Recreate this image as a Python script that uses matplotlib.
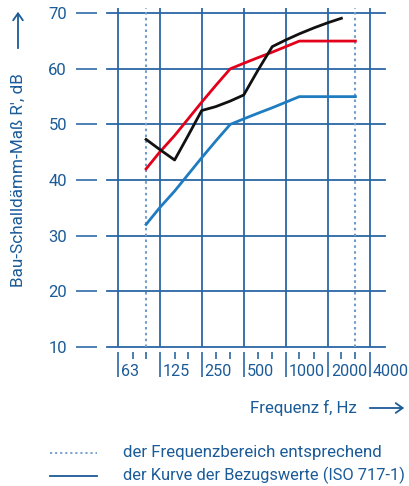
import matplotlib
matplotlib.use("Agg")
import matplotlib.pyplot as plt
from matplotlib.lines import Line2D
from matplotlib.ticker import FixedLocator, NullFormatter
from matplotlib.transforms import blended_transform_factory, ScaledTranslation

# ---- data ----
bands = [100, 125, 160, 200, 250, 315, 400, 500, 630, 800, 1000, 1250, 1600, 2000, 2500, 3150]
red_curve = [42, 45, 48, 51, 54, 57, 60, 61, 62, 63, 64, 65, 65, 65, 65, 65]
blue_curve = [32, 35, 38, 41, 44, 47, 50, 51, 52, 53, 54, 55, 55, 55, 55, 55]
black_bands = [100, 125, 160, 200, 250, 315, 400, 500, 630, 800, 1000, 1250, 1600, 2000, 2500]
black_curve = [47.3, 45.5, 43.6, 48.0, 52.5, 53.2, 54.2, 55.3, 59.7, 64.0, 65.2, 66.3, 67.4, 68.3, 69.1]
octave_ticks = [63, 125, 250, 500, 1000, 2000, 4000]
octave_labels = ["63", "125", "250", "500", "1000", "2000", "4000"]
third_ticks = [80, 100, 160, 200, 315, 400, 630, 800, 1250, 1600, 2500, 3150]
y_ticks = [10, 20, 30, 40, 50, 60, 70]
range_limits = [100, 3150]

TXT = "#1b5b98"
GRID = "#2a67a5"
DOT = "#6f9cca"

plt.rcParams['font.family'] = ['Roboto', 'DejaVu Sans']

W, H = 410, 486
fig = plt.figure(figsize=(W / 100, H / 100), dpi=100)
ax = fig.add_axes([107 / W, 1 - 346.7 / H, (385 - 107) / W, (346.7 - 8) / H])
ax.set_xscale('log', base=2)
ax.set_xlim(52.5, 5130)
ax.set_ylim(10, 70.95)

for s in ax.spines.values():
    s.set_visible(False)

# grid
for y in y_ticks:
    ax.axhline(y, color=GRID, lw=1.3, clip_on=False, zorder=1)
for x in octave_ticks:
    ax.axvline(x, color=GRID, lw=1.3, zorder=1)
for x in range_limits:
    ax.axvline(x, color=DOT, lw=1.5, ls=(0, (1.2, 1.6)), zorder=1)

# curves
ax.plot(bands, blue_curve, color="#1f7cc0", lw=2, zorder=3)
ax.plot(bands, red_curve, color="#e2001a", lw=2, zorder=3)
ax.plot(black_bands, black_curve, color="#111111", lw=2, zorder=4)

# y ticks
ax.spines['left'].set_position(('outward', 7.2))
ax.set_yticks(y_ticks)
ax.tick_params(axis='y', direction='out', length=15.1, width=1.3, color="#3f76b0",
               pad=6.5, labelsize=12, labelcolor=TXT)

# x ticks
ax.spines['bottom'].set_position(('outward', 3.6))
ax.xaxis.set_major_locator(FixedLocator(octave_ticks))
ax.xaxis.set_minor_locator(FixedLocator(third_ticks))
ax.xaxis.set_major_formatter(NullFormatter())
ax.xaxis.set_minor_formatter(NullFormatter())
ax.tick_params(axis='x', which='major', direction='out', length=18, width=1.2, color=GRID)
ax.tick_params(axis='x', which='minor', direction='out', length=5.3, width=1.2, color=GRID)

trans = blended_transform_factory(ax.transData, ax.transAxes) + ScaledTranslation(3 / 100, -25 / 100, fig.dpi_scale_trans)
for x, lab in zip(octave_ticks, octave_labels):
    ax.text(x, 0, lab, transform=trans, ha='left', va='center', fontsize=11.6, color=TXT)

# y label + arrow
fig.text(18 / W, 1 - 180 / H, "Bau-Schalldämm-Maß R', dB", rotation=90, ha='center', va='center',
         fontsize=12.3, color=TXT)
fig.add_artist(matplotlib.patches.FancyArrowPatch((18, H - 51), (18, H - 9), transform=None,
               arrowstyle='->,head_length=5,head_width=3.5', color=TXT, lw=1.3, mutation_scale=1))

# x label + arrow
fig.text(357 / W, 1 - 408 / H, "Frequenz f, Hz", ha='right', va='center', fontsize=12.2, color=TXT)
fig.add_artist(matplotlib.patches.FancyArrowPatch((367, H - 408), (407, H - 408), transform=None,
               arrowstyle='->,head_length=5,head_width=3.5', color=TXT, lw=1.3, mutation_scale=1))

# legend
fig.add_artist(Line2D([50 / W, 97 / W], [1 - 452.7 / H] * 2, transform=fig.transFigure,
                      color=DOT, lw=1.3, ls=(0, (1.2, 1.6))))
fig.add_artist(Line2D([50 / W, 97 / W], [1 - 475.7 / H] * 2, transform=fig.transFigure,
                      color=TXT, lw=1.3))
fig.text(123 / W, 1 - 452.7 / H, "der Frequenzbereich entsprechend", ha='left', va='center',
         fontsize=12.2, color=TXT)
fig.text(123 / W, 1 - 475.7 / H, "der Kurve der Bezugswerte (ISO 717-1)", ha='left', va='center',
         fontsize=11.8, color=TXT)

fig.savefig("out.png", dpi=100)
